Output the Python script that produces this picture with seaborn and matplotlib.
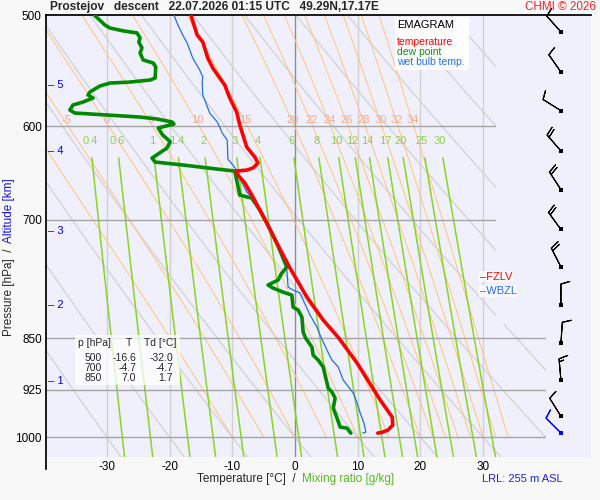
import numpy as np
import pandas as pd
import matplotlib
matplotlib.use('Agg')
import matplotlib.pyplot as plt
from matplotlib.patches import Polygon, Rectangle
from matplotlib.ticker import NullLocator
import seaborn as sns

# sounding (pressure hPa, temperature degC)
temp_p = [500.0, 516.7, 522.7, 536.6, 545.5, 554.5, 560.9, 573.0, 586.3, 599.0,
          621.0, 631.3, 637.6, 642.8, 645.0, 646.0, 650.2, 658.8, 674.2, 688.7,
          703.5, 727.1, 757.5, 794.5, 825.0, 849.8, 885.4, 922.5, 940.9, 967.5,
          980.3, 988.4, 991.6, 993.3]
temp_t = [-16.6, -15.6, -14.7, -13.9, -13.1, -12.0, -11.2, -10.4, -9.3, -8.8,
          -7.7, -6.4, -5.9, -6.7, -7.7, -9.4, -9.1, -8.0, -6.7, -5.6,
          -4.5, -2.9, -0.8, 1.9, 4.5, 7.0, 9.9, 12.4, 13.6, 15.5,
          15.6, 14.8, 14.0, 13.2]

dew_p = [500.0, 508.3, 510.8, 513.2, 514.9, 519.1, 522.7, 527.8, 532.2, 538.3,
         541.0, 544.6, 554.5, 556.3, 558.2, 559.1, 561.8, 567.4, 570.2, 573.0,
         576.8, 579.6, 584.4, 587.3, 589.2, 591.2, 593.1, 596.0, 598.0, 601.9,
         608.9, 615.5, 622.0, 632.4, 636.5, 639.6, 643.9, 646.0, 655.6, 672.0,
         675.3, 688.7, 703.5, 727.1, 756.3, 763.8, 772.6, 778.9, 782.8, 788.0,
         791.9, 807.7, 811.6, 821.0, 841.5, 849.8, 862.5, 873.9, 881.1, 891.2,
         903.0, 922.5, 928.6, 937.8, 953.3, 969.0, 983.5, 985.2, 993.3]
dew_t = [-32.0, -30.3, -29.5, -27.4, -25.2, -24.7, -24.9, -24.4, -24.7, -24.2,
         -22.6, -22.2, -22.3, -23.1, -26.3, -29.5, -31.1, -32.7, -33.0, -32.2,
         -33.8, -35.4, -35.9, -35.1, -30.0, -24.7, -22.0, -19.6, -19.3, -21.8,
         -21.1, -19.9, -20.4, -22.8, -22.3, -17.9, -12.4, -9.6, -9.3, -8.8,
         -6.9, -5.6, -4.5, -2.9, -1.3, -2.1, -2.7, -4.3, -3.5, -1.9,
         -0.5, -0.3, 0.5, 1.1, 1.3, 1.7, 2.7, 2.9, 3.7, 4.5,
         4.8, 5.3, 5.9, 6.4, 6.1, 6.7, 7.2, 8.3, 8.9]

wet_p = [500.0, 506.6, 516.7, 523.5, 536.6, 547.2, 553.6, 558.2, 570.2, 577.7,
         587.3, 596.0, 601.0, 606.9, 613.9, 633.4, 639.6, 645.0, 653.5, 668.6,
         674.2, 688.7, 703.5, 727.1, 760.0, 781.5, 785.4, 789.3, 798.4, 809.0,
         818.3, 834.6, 845.7, 866.8, 881.1, 891.2, 910.5, 930.1, 945.5, 961.1,
         977.1, 991.6, 993.3]
wet_t = [-19.3, -18.8, -17.9, -17.2, -16.3, -15.2, -14.7, -14.8, -14.7, -14.2,
         -13.6, -12.4, -12.0, -11.6, -10.8, -10.7, -9.9, -9.3, -8.8, -7.7,
         -6.9, -5.6, -4.5, -2.9, -1.3, -1.1, -0.3, 0.8, 1.3, 1.9,
         2.4, 3.5, 4.0, 5.1, 5.9, 6.9, 7.7, 9.3, 9.9, 10.4,
         11.0, 11.3, 10.8]

# wind (direction deg, speed kt)
wind_p = [514, 549, 585, 625, 666, 711, 756, 805, 857, 910, 966, 993]
wind_dir = [318, 325, 302, 319, 327, 324, 333, 360, 4, 355, 328, 315]
wind_spd = [10, 10, 10, 20, 20, 20, 20, 10, 10, 15, 10, 10]

alt_km = [1, 2, 3, 4, 5]
alt_p = [912, 805, 713, 625, 561]

table_p = [500, 700, 850]
table_t = [-16.6, -4.7, 7.0]
table_td = [-32.0, -4.7, 1.7]

isobars = [600, 700, 850, 925, 1000]
p_ticks = [500, 600, 700, 850, 925, 1000]
isotherms = [-30, -20, -10, 0, 10, 20, 30]
dry_theta = list(range(-30, 101, 10))
moist_tw = [-10, -5, 0, 5, 10, 15, 20, 22, 24, 26, 28, 30, 32, 34]
moist_lab = [-5, 0, 5, 10, 15, 20, 22, 24, 26, 28, 30, 32, 34]
mix_ratio = [0.4, 0.6, 1, 1.4, 2, 3, 4, 6, 8, 10, 12, 14, 17, 20, 25, 30]

sns.set_theme(style='white')
plt.rcParams['font.family'] = ['Liberation Sans', 'DejaVu Sans']
plt.rcParams['axes.unicode_minus'] = False


def moist_adiabat(tw, p):
    Rd, cp, lv, eps = 287.04, 1005.7, 2.501e6, 0.622

    def rate(T, pp):
        es = 611.2 * np.exp(17.67 * (T - 273.15) / (T - 29.65))
        rs = eps * es / (pp * 100 - es)
        return (Rd * T + lv * rs) / (pp * 100 * (cp + lv ** 2 * rs * eps / (Rd * T ** 2)))

    t = np.empty_like(p)
    t[0] = tw + 273.15
    for i in range(1, len(p)):
        dp = (p[i] - p[i - 1]) * 100
        k1 = rate(t[i - 1], p[i - 1])
        k2 = rate(t[i - 1] + k1 * dp, p[i])
        t[i] = t[i - 1] + 0.5 * (k1 + k2) * dp
    return t - 273.15


def mixing_temp(w, p):
    e = w * p / (622.0 + w)
    a = np.log(e / 6.112)
    return 243.5 * a / (17.67 - a)


def fxy(px, py):
    return px / 600, 1 - py / 500


fig = plt.figure(figsize=(6, 5), dpi=100, facecolor='#f8f8f8')
ax = fig.add_axes([46 / 600, 1 - 457 / 500, 545 / 600, 442 / 500])
ax.set_facecolor('#f0f0fc')
ax.set_yscale('log')
ax.set_xlim(-39.7, 47.2)
ax.set_ylim(1033, 500)

clip = Polygon([(-45, 490), (32, 490), (32, 830), (40, 830), (40, 1100), (-45, 1100)],
               closed=True, transform=ax.transData, facecolor='none', edgecolor='none')
ax.add_patch(clip)

# dry adiabats
pp = np.linspace(490, 1040, 120)
for th in dry_theta:
    tt = (th + 273.15) * (pp / 1000) ** 0.2857 - 273.15
    ln, = ax.plot(tt, pp, color='#d4d4d4', lw=1, zorder=1)
    ln.set_clip_path(clip)

# moist adiabats
pm = np.linspace(1000, 495, 400)
for tw in moist_tw:
    tt = moist_adiabat(tw, pm)
    ln, = ax.plot(tt, pm, color='#ffc680', lw=0.75, zorder=1.2)
    ln.set_clip_path(clip)
    if tw in moist_lab:
        xl = np.interp(597, pm[::-1], tt[::-1])
        ax.text(xl, 594, '%g' % tw, color='#f7a88f', fontsize=8, ha='center', va='center', zorder=1.3)

# mixing ratio lines
pw = np.linspace(632, 1040, 60)
for w in mix_ratio:
    tt = mixing_temp(w, pw)
    ln, = ax.plot(tt, pw, color='#88d422', lw=1.1, zorder=1.4)
    ln.set_clip_path(clip)
    ax.text(mixing_temp(w, 615), 615, '%g' % w, color='#90d04a', fontsize=8,
            ha='center', va='center', zorder=1.4)

# isotherms and isobars
for t0 in isotherms:
    ax.axvline(t0, color='#8e8e8e' if t0 == 0 else '#d0d0d0', lw=1, zorder=1.1)
for p0 in isobars:
    ln = ax.axhline(p0, color='#a4a4a4', lw=1, zorder=1.5)
    ln.set_clip_path(clip)

# profiles
temp_df = pd.DataFrame({'p': temp_p, 't': temp_t})
dew_df = pd.DataFrame({'p': dew_p, 't': dew_t})
wet_df = pd.DataFrame({'p': wet_p, 't': wet_t})
sns.lineplot(data=wet_df, x='t', y='p', sort=False, estimator=None, color='#1f6fe8', lw=0.9, ax=ax, zorder=3)
sns.lineplot(data=dew_df, x='t', y='p', sort=False, estimator=None, color='#008a00', lw=2.6, ax=ax, zorder=3.1)
sns.lineplot(data=temp_df, x='t', y='p', sort=False, estimator=None, color='#ff0000', lw=2.6, ax=ax, zorder=3.2)

# wind barbs
wd = np.deg2rad(np.array(wind_dir, dtype=float))
ws = np.array(wind_spd, dtype=float)
u = -ws * np.sin(wd)
v = -ws * np.cos(wd)
bx = np.full(len(wind_p), 42.4)
bcol = ['black'] * (len(wind_p) - 1) + ['blue']
ax.barbs(bx, wind_p, u, v, length=5.5, linewidth=0.8, color=bcol, zorder=5, clip_on=False,
         sizes=dict(spacing=0.14, height=0.42, width=0.25))
ax.scatter(bx, wind_p, marker='s', s=8, c=bcol, linewidths=0, zorder=6, clip_on=False)

# freezing levels from the profiles
fzlv = np.interp(0, temp_t[20:26], temp_p[20:26])
wbzl = np.interp(0, wet_t[24:30], wet_p[24:30])
ytr = ax.get_yaxis_transform()
ax.text(0.796, fzlv, '\u2013FZLV', transform=ytr, color='red', fontsize=8, va='center', zorder=6,
        bbox=dict(facecolor='white', edgecolor='none', alpha=0.8, pad=0.5))
ax.text(0.796, wbzl, '\u2013WBZL', transform=ytr, color='#1f6fe8', fontsize=8, va='center', zorder=6,
        bbox=dict(facecolor='white', edgecolor='none', alpha=0.8, pad=0.5))

# altitude marks
for km, pk in zip(alt_km, alt_p):
    ax.text(0.004, pk, '\u2013 %d' % km, transform=ytr, color='#0000ee', fontsize=8, va='center')

# axes styling
ax.set_xticks(isotherms)
ax.set_xticklabels([str(t) for t in isotherms], fontsize=8.5)
ax.set_yticks(p_ticks)
ax.set_yticklabels([str(p) for p in p_ticks], fontsize=8.5)
ax.yaxis.set_minor_locator(NullLocator())
ax.tick_params(length=0, pad=3, colors='black')
ax.set_xlabel('')
ax.set_ylabel('')
for s in ['bottom', 'right']:
    ax.spines[s].set_visible(False)
ax.spines['top'].set_color('black')
ax.spines['left'].set_color('black')
ax.spines['left'].set_bounds(500, 1053)
ax.grid(False)

# legend box
fig.patches.append(Rectangle(fxy(395, 70), 74 / 600, 53 / 500, transform=fig.transFigure,
                             facecolor='white', edgecolor='none', alpha=0.9, zorder=4))
fig.text(*fxy(397, 25), 'EMAGRAM', fontsize=8, color='black', va='center', zorder=5)
fig.text(*fxy(397, 42), 'temperature', fontsize=7.5, color='red', va='center', zorder=5)
fig.text(*fxy(397, 52), 'dew point', fontsize=7.5, color='#109010', va='center', zorder=5)
fig.text(*fxy(397, 62), 'wet bulb temp.', fontsize=7.5, color='#1f6fe8', va='center', zorder=5)

# table
fig.patches.append(Rectangle(fxy(75, 385), 105 / 600, 50 / 500, transform=fig.transFigure,
                             facecolor='white', edgecolor='none', alpha=0.75, zorder=4))
fig.text(*fxy(78, 343), 'p [hPa]', fontsize=7.5, va='center', zorder=5)
fig.text(*fxy(129, 343), 'T', fontsize=7.5, va='center', ha='center', zorder=5)
fig.text(*fxy(176, 343), 'Td [\u00b0C]', fontsize=7.5, va='center', ha='right', zorder=5)
for i, (pv, tv, dv) in enumerate(zip(table_p, table_t, table_td)):
    yy = 358 + 10 * i
    fig.text(*fxy(102, yy), '%d' % pv, fontsize=7.5, va='center', ha='right', zorder=5)
    fig.text(*fxy(136, yy), '%.1f' % tv, fontsize=7.5, va='center', ha='right', zorder=5)
    fig.text(*fxy(173, yy), '%.1f' % dv, fontsize=7.5, va='center', ha='right', zorder=5)

# titles and labels
fig.text(*fxy(50, 7), 'Prostejov   descent   22.07.2026 01:15 UTC   49.29N,17.17E',
         fontsize=8.6, fontweight='bold', va='center')
fig.text(*fxy(596, 7), 'CHMI \u00a9 2026', fontsize=8.4, color='#ff2020', va='center', ha='right')
fig.text(*fxy(197, 479), 'Temperature [\u00b0C]  /  ', fontsize=8.5, va='center')
fig.text(*fxy(302, 479), 'Mixing ratio [g/kg]', fontsize=8.5, color='#55bb22', va='center')
fig.text(*fxy(482, 479), 'LRL: 255 m ASL', fontsize=8, color='#2222dd', va='center')
fig.text(*fxy(9, 336), 'Pressure [hPa]  /  ', fontsize=8.5, rotation=90, ha='center', va='bottom')
fig.text(*fxy(9, 243), 'Altitude [km]', fontsize=8.5, rotation=90, ha='center', va='bottom', color='#1515dd')

fig.savefig('out.png', dpi=100, facecolor=fig.get_facecolor())
